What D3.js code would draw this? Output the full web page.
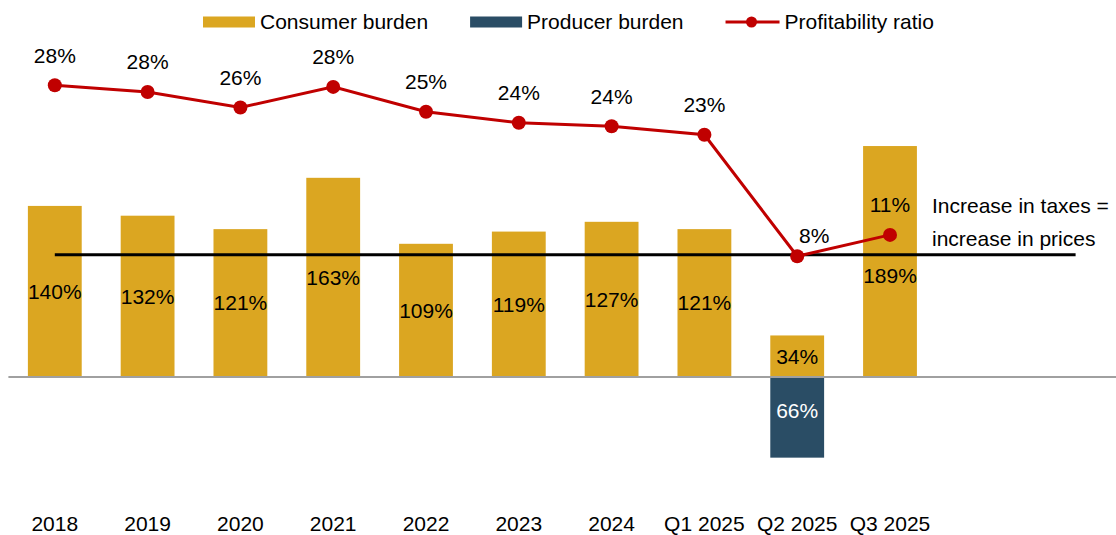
<!DOCTYPE html>
<html>
<head>
<meta charset="utf-8">
<script src="https://cdn.jsdelivr.net/npm/d3@7"></script>
<style>
  body { margin: 0; background: #fff; }
  text { font-family: "Liberation Sans", Arial, sans-serif; fill: #000; }
</style>
</head>
<body>
<script>
// data
let categories = ["2018", "2019", "2020", "2021", "2022", "2023", "2024", "Q1 2025", "Q2 2025", "Q3 2025"]
let consumer = [140, 132, 121, 163, 109, 119, 127, 121, 34, 189]
let producer = [0, 0, 0, 0, 0, 0, 0, 0, -66, 0]
let profitability = [28.4, 27.6, 25.8, 28.2, 25.3, 24.0, 23.6, 22.6, 8.4, 10.9]
let neutralLine = 100

let width = 1116
let height = 535
let gold = "#DBA621"
let navy = "#2A4D65"
let red = "#C00000"
let fontSize = 21

let svg = d3.select("body").append("svg")
    .attr("width", width)
    .attr("height", height)

let x = d3.scaleBand()
    .domain(categories)
    .range([8.4, 8.4 + 92.8 * categories.length])
    .paddingInner(0.42)
    .paddingOuter(0.21)

let y = d3.scaleLinear().domain([-100, 250]).range([499.2, 71.5])
let y2 = d3.scaleLinear().domain([-20, 30]).range([499.2, 71.5])

let cx = d => x(d) + x.bandwidth() / 2

// consumer bars
svg.selectAll(".consumer")
    .data(categories)
    .enter()
    .append("rect")
    .attr("class", "consumer")
    .attr("x", d => x(d))
    .attr("width", x.bandwidth())
    .attr("y", (d, i) => y(consumer[i]))
    .attr("height", (d, i) => y(0) - y(consumer[i]))
    .attr("fill", gold)

// producer bars (negative)
svg.selectAll(".producer")
    .data(categories.filter((d, i) => producer[i] != 0))
    .enter()
    .append("rect")
    .attr("class", "producer")
    .attr("x", d => x(d))
    .attr("width", x.bandwidth())
    .attr("y", y(0))
    .attr("height", d => y(producer[categories.indexOf(d)]) - y(0))
    .attr("fill", navy)

// zero baseline
svg.append("line")
    .attr("x1", x.range()[0]).attr("x2", width)
    .attr("y1", y(0)).attr("y2", y(0))
    .attr("stroke", "#A0A0A0")
    .attr("stroke-width", 2)

// 100% line: increase in taxes = increase in prices
let lineEnd = cx(categories[categories.length - 1]) + 2 * x.step()
svg.append("line")
    .attr("x1", cx(categories[0])).attr("x2", lineEnd)
    .attr("y1", y(neutralLine)).attr("y2", y(neutralLine))
    .attr("stroke", "#000")
    .attr("stroke-width", 3)

let note = svg.append("text")
    .attr("x", 932)
    .attr("y", 206)
    .style("font-size", fontSize + "px")
note.append("tspan").attr("x", 932).attr("dy", "0.35em").text("Increase in taxes =")
note.append("tspan").attr("x", 932).attr("dy", 32.5).text("increase in prices")

// bar labels
let consumerNudge = { "Q3 2025": 14 }
svg.selectAll(".clabel")
    .data(categories)
    .enter()
    .append("text")
    .attr("class", "clabel")
    .attr("x", d => cx(d))
    .attr("y", (d, i) => (y(0) + y(consumer[i])) / 2 + (consumerNudge[d] || 0))
    .attr("dy", "0.35em")
    .attr("text-anchor", "middle")
    .style("font-size", fontSize + "px")
    .text((d, i) => consumer[i] + "%")

svg.selectAll(".plabel")
    .data(categories.filter((d, i) => producer[i] != 0))
    .enter()
    .append("text")
    .attr("class", "plabel")
    .attr("x", d => cx(d))
    .attr("y", d => (y(0) + y(producer[categories.indexOf(d)])) / 2 - 7)
    .attr("dy", "0.35em")
    .attr("text-anchor", "middle")
    .style("font-size", fontSize + "px")
    .style("fill", "#fff")
    .text(d => Math.abs(producer[categories.indexOf(d)]) + "%")

// profitability line
let line = d3.line()
    .x((d, i) => cx(categories[i]))
    .y(d => y2(d))

svg.append("path")
    .datum(profitability)
    .attr("d", line)
    .attr("fill", "none")
    .attr("stroke", red)
    .attr("stroke-width", 3)

svg.selectAll(".dot")
    .data(profitability)
    .enter()
    .append("circle")
    .attr("class", "dot")
    .attr("cx", (d, i) => cx(categories[i]))
    .attr("cy", d => y2(d))
    .attr("r", 7)
    .attr("fill", red)

let lineNudge = { "Q2 2025": [17, 9] }
svg.selectAll(".llabel")
    .data(profitability)
    .enter()
    .append("text")
    .attr("class", "llabel")
    .attr("x", (d, i) => cx(categories[i]) + (lineNudge[categories[i]] || [0, 0])[0])
    .attr("y", (d, i) => y2(d) - 30 + (lineNudge[categories[i]] || [0, 0])[1])
    .attr("dy", "0.35em")
    .attr("text-anchor", "middle")
    .style("font-size", fontSize + "px")
    .text(d => Math.round(d) + "%")

// category labels
let xAxis = svg.append("g")
    .attr("transform", "translate(0, 524)")
xAxis.selectAll("text")
    .data(categories)
    .enter()
    .append("text")
    .attr("x", d => cx(d))
    .attr("dy", "0.35em")
    .attr("text-anchor", "middle")
    .style("font-size", fontSize + "px")
    .text(d => d)

// legend
let legendItems = [
    { name: "Consumer burden", type: "rect", color: gold },
    { name: "Producer burden", type: "rect", color: navy },
    { name: "Profitability ratio", type: "line", color: red }
]
let legend = svg.append("g").attr("transform", "translate(203, 22)")
let lx = 0
legendItems.forEach(item => {
    let g = legend.append("g").attr("transform", `translate(${lx}, 0)`)
    if (item.type == "rect") {
        g.append("rect")
            .attr("x", 0).attr("y", -5.5)
            .attr("width", 52).attr("height", 11)
            .attr("fill", item.color)
    } else {
        g.append("line")
            .attr("x1", 0).attr("x2", 54)
            .attr("y1", 0).attr("y2", 0)
            .attr("stroke", item.color)
            .attr("stroke-width", 3)
        g.append("circle")
            .attr("cx", 26).attr("cy", 0).attr("r", 5.5)
            .attr("fill", item.color)
    }
    let t = g.append("text")
        .attr("x", item.type == "rect" ? 57 : 59)
        .attr("dy", "0.35em")
        .style("font-size", fontSize + "px")
        .text(item.name)
    lx += (item.type == "rect" ? 57 : 59) + t.node().getComputedTextLength() + 42
})
</script>
</body>
</html>
